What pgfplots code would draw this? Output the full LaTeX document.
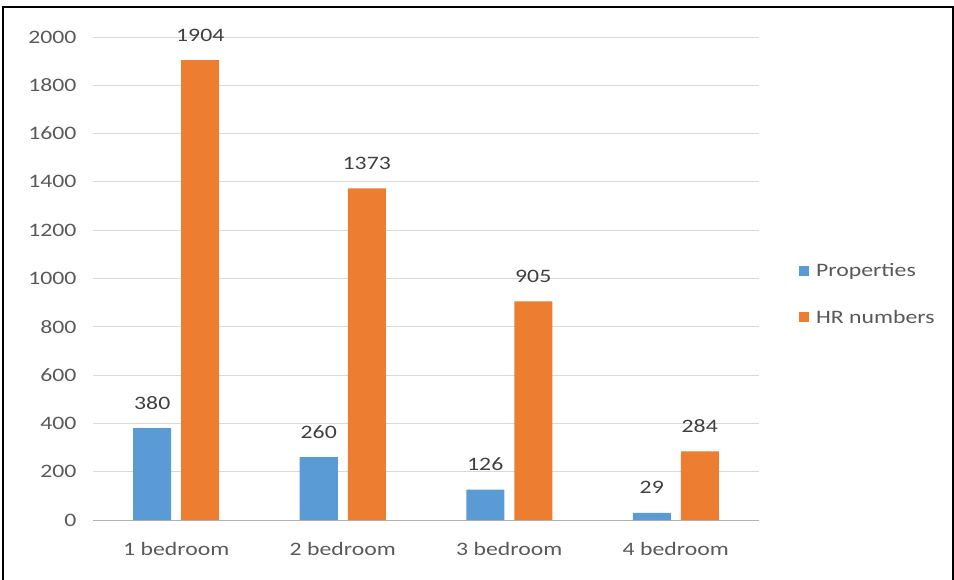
\documentclass[border=0pt]{standalone}
\usepackage{fontspec}
\setmainfont{Carlito}
\usepackage{graphicx}
\usepackage{pgfplots}
\pgfplotsset{compat=1.18}
\definecolor{cblue}{HTML}{5B9BD5}
\definecolor{corange}{HTML}{ED7D31}
\definecolor{tickgray}{HTML}{595959}
\definecolor{labgray}{HTML}{404040}
\definecolor{gridgray}{HTML}{D9D9D9}
\newcommand\sx[1]{\scalebox{1.25}[1]{#1}}
\begin{document}
\begin{tikzpicture}
\begin{axis}[
  scale only axis,
  width=666pt, height=483pt,
  xmin=-0.5, xmax=3.5,
  ymin=0, ymax=2000,
  ytick={0,200,...,2000},
  xtick={0,1,2,3},
  xticklabels={\sx{1 bedroom},\sx{2 bedroom},\sx{3 bedroom},\sx{4 bedroom}},
  yticklabel={\sx{\pgfmathprintnumber{\tick}}},
  /pgf/number format/1000 sep={},
  /pgf/number format/assume math mode=true,
  ticklabel style={font=\fontsize{19}{22}\selectfont, text=tickgray},
  yticklabel style={xshift=-13pt},
  xticklabel style={yshift=-19pt},
  major tick length=0pt,
  ymajorgrids,
  grid style={gridgray, line width=0.9pt},
  axis x line*=bottom,
  axis y line*=left,
  y axis line style={draw=none},
  x axis line style={draw=gray!60, line width=1pt, -},
  ybar=10pt,
  bar width=38pt,
  nodes near coords={\sx{\pgfmathprintnumber{\pgfplotspointmeta}}},
  every node near coord/.append style={font=\fontsize{19}{22}\selectfont, text=labgray, anchor=base, inner sep=0pt, yshift=19pt},
  legend style={draw=none, fill=none, at={(1.06,0.468)}, anchor=west, font=\fontsize{19}{22}\selectfont, text=tickgray, row sep=28pt, inner sep=0pt},
  legend cell align=left,
  legend image code/.code={\fill[#1] (0pt,-5pt) rectangle (10pt,5pt);},
]
\addplot[fill=cblue, draw=none] coordinates {(0,380) (1,260) (2,126) (3,29)};
\addplot[fill=corange, draw=none] coordinates {(0,1904) (1,1373) (2,905) (3,284)};
\legend{\hspace{5pt}\sx{Properties},\hspace{5pt}\sx{HR numbers}}
\end{axis}
\useasboundingbox (-93pt,-59pt) rectangle (861pt,520pt);
\draw[black, line width=2pt] (-90pt,-62pt) -- (-90pt,513pt) -- (860pt,513pt) -- (860pt,-62pt);
\end{tikzpicture}
\end{document}
